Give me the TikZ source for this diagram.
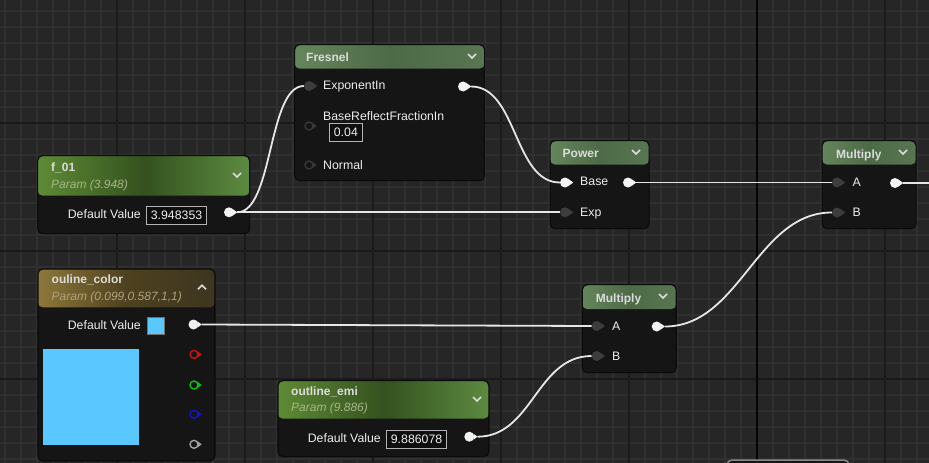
\documentclass[tikz,border=0pt]{standalone}
\usepackage{fontspec}
\setmainfont{Liberation Sans}
\usetikzlibrary{positioning}

\definecolor{bg}{HTML}{262626}
\definecolor{minorc}{HTML}{303030}
\definecolor{majorc}{HTML}{1A1A1A}
\definecolor{axisc}{HTML}{050505}
\definecolor{bodyc}{HTML}{151515}
\definecolor{rim}{HTML}{0A0A0A}
\definecolor{exprl}{HTML}{65865C}
\definecolor{exprm}{HTML}{4D6A47}
\definecolor{exprr}{HTML}{587652}
\definecolor{parl}{HTML}{5E8B34}
\definecolor{parm}{HTML}{34511F}
\definecolor{parr}{HTML}{5C8A40}
\definecolor{goldl}{HTML}{8E783B}
\definecolor{goldm}{HTML}{4D411F}
\definecolor{goldr}{HTML}{3E3520}
\definecolor{ttlc}{HTML}{DCDCDC}
\definecolor{subgreen}{HTML}{A6B68A}
\definecolor{subgold}{HTML}{B0A27A}
\definecolor{txt}{HTML}{EDEDED}
\definecolor{pinwhite}{HTML}{F2F2F2}
\definecolor{pindark}{HTML}{3D3D3D}
\definecolor{pinhollow}{HTML}{383838}
\definecolor{pinred}{HTML}{D01010}
\definecolor{pingreen}{HTML}{10C010}
\definecolor{pinblue}{HTML}{1414C8}
\definecolor{pingray}{HTML}{A0A0A0}
\definecolor{swatch}{HTML}{5AC8FF}
\definecolor{valrim}{HTML}{B4B4B4}
\definecolor{valfill}{HTML}{0E0E0E}
\definecolor{wirec}{HTML}{E6E6E6}

\begin{document}
\begin{tikzpicture}[
  x=1pt, y=-1pt,
  font=\fontsize{12.3}{14}\selectfont,
  body/.style={draw=rim, fill=bodyc, line width=1.2pt, rounded corners=5pt, anchor=north west, inner sep=0pt},
  hdr/.style n args={4}{path picture={\shade[left color=#1, right color=#3, middle color=#2]
    (path picture bounding box.north west) rectangle ([yshift=-#4pt]path picture bounding box.north east);}},
  ttl/.style={font=\bfseries\fontsize{12}{14}\selectfont, text=ttlc, anchor=west, inner sep=0pt, text height=8.6pt, text depth=0pt},
  sub/.style={font=\itshape\fontsize{12}{14}\selectfont, text=#1, anchor=west, inner sep=0pt, text height=8.6pt, text depth=0pt},
  lbl/.style={text=txt, anchor=west, inner sep=0pt, text height=8.8pt, text depth=0pt},
  val/.style={draw=valrim, fill=valfill, line width=0.8pt, text=txt, anchor=west, inner xsep=4.5pt, inner ysep=0pt, minimum height=18pt, text height=8.8pt, text depth=0pt},
  pinon/.style={circle, fill=pinwhite, inner sep=0pt, minimum size=10pt},
  pinoff/.style={circle, fill=pindark, inner sep=0pt, minimum size=10pt},
  pinfree/.style={circle, draw=#1, line width=1.4pt, inner sep=0pt, minimum size=8pt},
  chev/.style={draw=ttlc, line width=1.6pt},
  wire/.style={draw=wirec, line width=1.8pt}
]
  \useasboundingbox (0,0) rectangle (929,463);
  \clip (0,0) rectangle (929,463);

  % grid
  \fill[bg] (0,0) rectangle (929,463);
  \foreach \x in {5,21,...,925} \draw[minorc, line width=1.6pt] (\x,0) -- (\x,463);
  \foreach \y in {11,27,...,459} \draw[minorc, line width=1.6pt] (0,\y) -- (929,\y);
  \foreach \x in {117,245,...,885} \draw[majorc, line width=2pt] (\x,0) -- (\x,463);
  \foreach \y in {123,251,379} \draw[majorc, line width=2pt] (0,\y) -- (929,\y);
  \draw[axisc, line width=2.2pt] (757,0) -- (757,463);

  % node cut off at the bottom
  \draw[draw=pingray!85!black, fill=bodyc, line width=1.5pt, rounded corners=5pt] (727,460) rectangle (849,495);

  % Fresnel
  \node[body, minimum width=190pt, minimum height=136pt, hdr={exprl}{exprm}{exprr}{24}] (fresnel) at (294,44) {};
  \node[ttl] (fresnelttl) at (306,57.5) {Fresnel};
  \node[pinoff] (fexp) at (309,86) {};
  \node[lbl] (fexplbl) at (323,85.5) {ExponentIn};
  \node[pinon] (fout) at (463,86.5) {};
  \node[pinfree=pinhollow] (fbase) at (309,126) {};
  \node[lbl] (fbaselbl) at (323,116) {BaseReflectFractionIn};
  \node[val] (fbaseval) at (329,132) {0.04};
  \node[pinfree=pinhollow] (fnorm) at (309,165) {};
  \node[lbl] (fnormlbl) at (323,164.7) {Normal};

  % f_01
  \node[body, minimum width=212pt, minimum height=78pt, hdr={parl}{parm}{parr}{40}] (f01) at (37,155) {};
  \node[ttl] (f01ttl) at (51,167.5) {f\_01};
  \node[sub=subgreen] (f01sub) at (51,184) {Param (3.948)};
  \node[lbl, anchor=east] (f01lbl) at (141,213.8) {Default Value};
  \node[val] (f01val) at (146,215) {3.948353};
  \node[pinon] (f01out) at (229,212.3) {};

  % Power
  \node[body, minimum width=99pt, minimum height=88pt, hdr={exprl}{exprm}{exprr}{24}] (power) at (549.5,140) {};
  \node[ttl] (powerttl) at (562.5,153.3) {Power};
  \node[pinon] (pbase) at (565,182.5) {};
  \node[lbl] (pbaselbl) at (580,181.2) {Base};
  \node[pinon] (pout) at (628,182.5) {};
  \node[pinoff] (pexp) at (565,212.3) {};
  \node[lbl] (pexplbl) at (580,212) {Exp};

  % Multiply (top)
  \node[body, minimum width=94pt, minimum height=88pt, hdr={exprl}{exprm}{exprr}{24}] (multop) at (821.5,140) {};
  \node[ttl] (multopttl) at (836,153.7) {Multiply};
  \node[pinoff] (multopa) at (837,182.5) {};
  \node[lbl] (multopalbl) at (852.5,182) {A};
  \node[pinoff] (multopb) at (837,212.5) {};
  \node[lbl] (multopblbl) at (852.5,212) {B};
  \node[pinon] (multopout) at (895,183) {};
  \coordinate (offright) at (940,183);

  % ouline_color
  \node[body, minimum width=177pt, minimum height=192pt, hdr={goldl}{goldm}{goldr}{38.5}] (color) at (37.3,268.3) {};
  \node[ttl] (colorttl) at (51.5,279.5) {ouline\_color};
  \node[sub=subgold] (colorsub) at (51.5,296) {Param (0.099,0.587,1,1)};
  \node[lbl, anchor=east] (colorlbl) at (141,325.3) {Default Value};
  \node[draw=pingray!70!black, fill=swatch, line width=0.8pt, anchor=north west, minimum width=17pt, minimum height=17pt, inner sep=0pt] (colorval) at (146.7,317.3) {};
  \node[fill=swatch, anchor=north west, minimum width=96pt, minimum height=96pt, inner sep=0pt] (colorprev) at (42.7,348.3) {};
  \node[pinon] (colout) at (193.5,324.5) {};
  \node[pinfree=pinred] (colr) at (194,354.3) {};
  \node[pinfree=pingreen] (colg) at (194,385) {};
  \node[pinfree=pinblue] (colb) at (194,414.3) {};
  \node[pinfree=pingray] (cola) at (194,444.3) {};

  % Multiply (middle)
  \node[body, minimum width=94pt, minimum height=88pt, hdr={exprl}{exprm}{exprr}{24.5}] (mulmid) at (581.7,284) {};
  \node[ttl] (mulmidttl) at (595.7,298) {Multiply};
  \node[pinoff] (mulmida) at (596.7,326) {};
  \node[lbl] (mulmidalbl) at (612,326) {A};
  \node[pinoff] (mulmidb) at (596.7,356) {};
  \node[lbl] (mulmidblbl) at (612,356) {B};
  \node[pinon] (mulmidout) at (656.7,326.5) {};

  % outline_emi
  \node[body, minimum width=211pt, minimum height=76pt, hdr={parl}{parm}{parr}{38}] (emi) at (277.3,380) {};
  \node[ttl] (emittl) at (291,391) {outline\_emi};
  \node[sub=subgreen] (emisub) at (291,407.5) {Param (9.886)};
  \node[lbl, anchor=east] (emilbl) at (381,438.5) {Default Value};
  \node[val] (emival) at (386,439) {9.886078};
  \node[pinon] (emiout) at (469.3,436.7) {};

  % pin tips
  \foreach \p/\c in {fexp/pindark, fout/pinwhite, fbase/pinhollow, fnorm/pinhollow,
      f01out/pinwhite, pbase/pinwhite, pout/pinwhite, pexp/pindark,
      multopa/pindark, multopb/pindark, multopout/pinwhite,
      colout/pinwhite, colr/pinred, colg/pingreen, colb/pinblue, cola/pingray,
      mulmida/pindark, mulmidb/pindark, mulmidout/pinwhite, emiout/pinwhite}
    \fill[\c] ([xshift=-1pt]\p.east) ++(0,-3) -- ++(4,3) -- ++(-4,3) -- cycle;

  % collapse arrows
  \foreach \cx/\cy in {472/56, 237/175, 636/152, 903/152, 663/296, 477/399}
    \draw[chev] (\cx-4,\cy-2) -- (\cx,\cy+2) -- (\cx+4,\cy-2);
  \draw[chev] (198,289.3) -- (202,285.3) -- (206,289.3);

  % wires
  \draw[wire] ([xshift=3pt]f01out.east) .. controls +(36,0) and +(-36,0) .. (fexp.west);
  \draw[wire] ([xshift=3pt]f01out.east) -- (pexp.west);
  \draw[wire] ([xshift=3pt]fout.east) .. controls +(46,0) and +(-46,0) .. (pbase.west);
  \draw[wire] ([xshift=3pt]pout.east) -- (multopa.west);
  \draw[wire] ([xshift=3pt]mulmidout.east) .. controls +(75,0) and +(-75,0) .. (multopb.west);
  \draw[wire] ([xshift=3pt]colout.east) -- (mulmida.west);
  \draw[wire] ([xshift=3pt]emiout.east) .. controls +(55,0) and +(-55,0) .. (mulmidb.west);
  \draw[wire] ([xshift=3pt]multopout.east) -- (offright);
\end{tikzpicture}
\end{document}
